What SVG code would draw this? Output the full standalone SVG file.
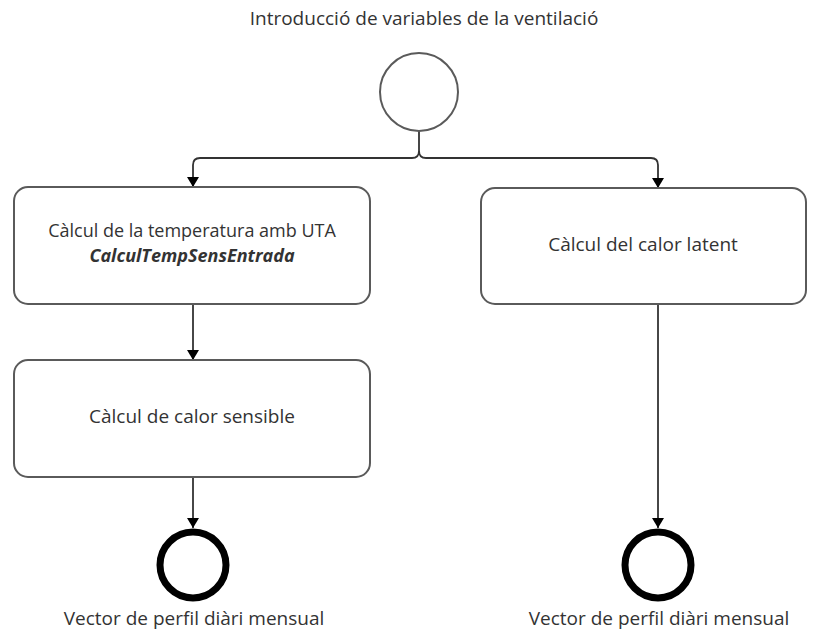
<svg xmlns="http://www.w3.org/2000/svg" width="823" height="634" viewBox="0 0 823 634">
  <style>
    .lbl { font-family: "Open Sans", "Noto Sans", sans-serif; font-size: 19px; fill: #333333; text-anchor: middle; }
    .two { font-size: 18px; }
    .em { font-style: italic; font-weight: bold; }
    .box { fill: #ffffff; stroke: #5a5a5a; stroke-width: 2; }
    .start { fill: #ffffff; stroke: #5a5a5a; stroke-width: 2; }
    .end { fill: #ffffff; stroke: #000000; stroke-width: 7; }
    .flow { fill: none; stroke: #333333; stroke-width: 1.8; }
  </style>
  <defs>
    <marker id="arrow" viewBox="0 0 10 12" refX="10" refY="6" markerWidth="10" markerHeight="12" markerUnits="userSpaceOnUse" orient="auto">
      <path d="M0,0 L10,6 L0,12 Z" fill="#000000"/>
    </marker>
  </defs>
  <rect width="823" height="634" fill="#ffffff"/>

  <!-- flow lines between the nodes -->
  <g id="connectors">
    <path class="flow" d="M419,131 V151 Q419,158 412,158 H200 Q193,158 193,165 V187" marker-end="url(#arrow)"/>
    <path class="flow" d="M419,151 Q419,158 426,158 H651 Q658,158 658,165 V188" marker-end="url(#arrow)"/>
    <path class="flow" d="M193,304 V360" marker-end="url(#arrow)"/>
    <path class="flow" d="M193,477 V528" marker-end="url(#arrow)"/>
    <path class="flow" d="M658,304 V528" marker-end="url(#arrow)"/>
  </g>

  <g id="start">
    <text class="lbl" x="424" y="25">Introducció de variables de la ventilació</text>
    <circle class="start" cx="419" cy="92" r="39"/>
  </g>

  <g id="temp-uta">
    <rect class="box" x="14" y="187" width="356" height="117" rx="14"/>
    <text class="lbl two" x="192" y="237">Càlcul de la temperatura amb UTA</text>
    <text class="lbl two em" x="192" y="262">CalculTempSensEntrada</text>
  </g>

  <g id="calor-latent">
    <rect class="box" x="481" y="188" width="325" height="116" rx="14"/>
    <text class="lbl" x="643" y="251">Càlcul del calor latent</text>
  </g>

  <g id="calor-sensible">
    <rect class="box" x="14" y="360" width="356" height="117" rx="14"/>
    <text class="lbl" x="192" y="423">Càlcul de calor sensible</text>
  </g>

  <g id="end-left">
    <circle class="end" cx="193" cy="565" r="33"/>
    <text class="lbl" x="194" y="625">Vector de perfil diàri mensual</text>
  </g>

  <g id="end-right">
    <circle class="end" cx="658" cy="565" r="33"/>
    <text class="lbl" x="659" y="625">Vector de perfil diàri mensual</text>
  </g>
</svg>
